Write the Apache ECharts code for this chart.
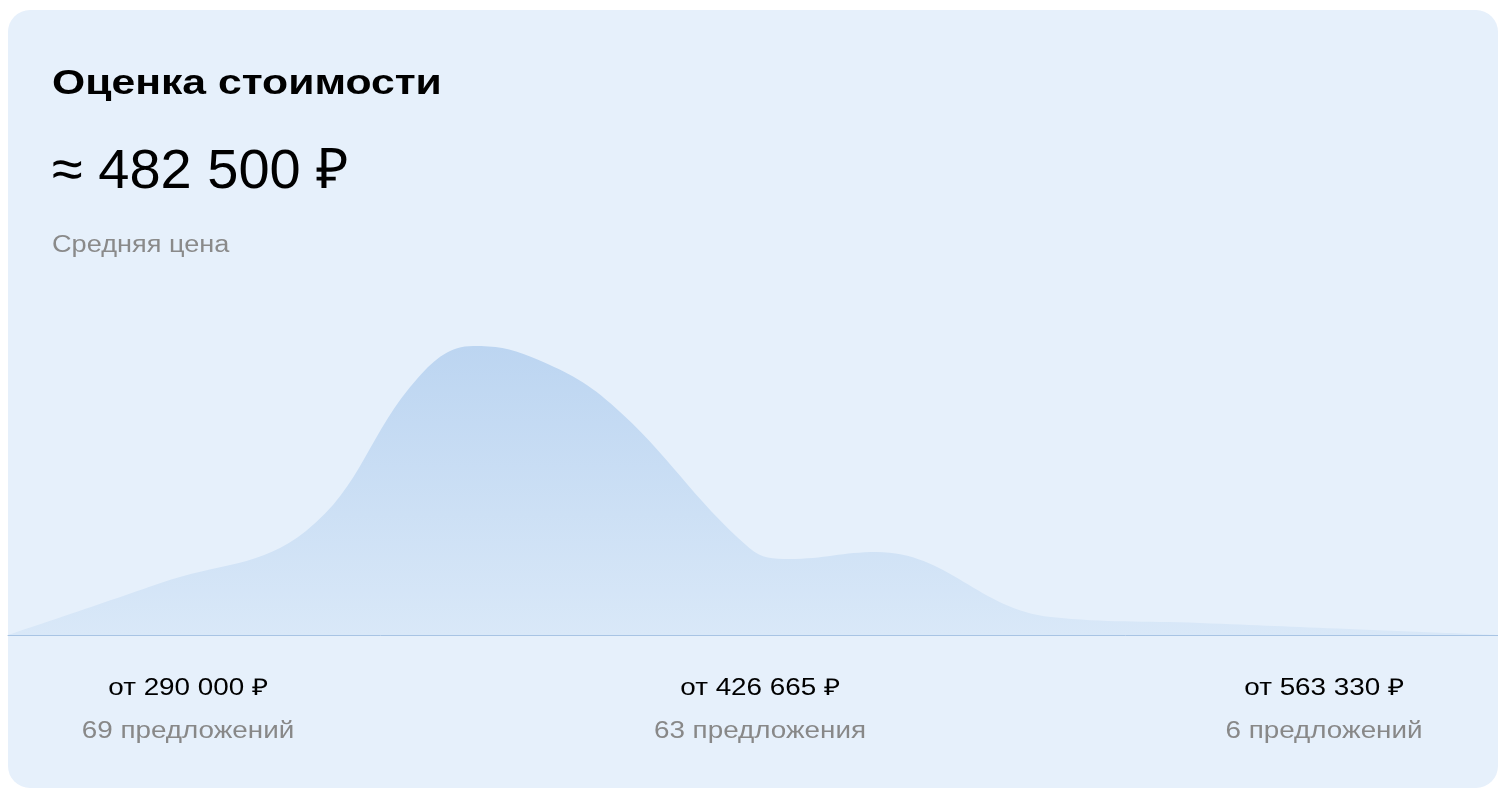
<!DOCTYPE html>
<html>
<head>
<meta charset="utf-8">
<script src="https://cdn.jsdelivr.net/npm/echarts@6/dist/echarts.min.js"></script>
<style>
html,body{margin:0;padding:0;background:#ffffff;}
#chart{width:1498px;height:789px;}
</style>
</head>
<body>
<div id="chart"></div>
<script>
// Data
const titleText = 'Оценка стоимости';
const avgPriceText = '≈ 482 500 ₽';
const avgLabel = 'Средняя цена';
const prices  = [290000, 332000, 372000, 403000, 418000, 434000, 456000, 494000, 505000, 529000, 577000, 618000, 659000, 700000];
const density = [0,      52,     104,    258,    289,    278,    231,    87,     76,     83,     18,     12,     6,      0];
const priceMin = 290000;
const priceMax = 700000;
const rangeLabels = ['от 290 000 ₽', 'от 426 665 ₽', 'от 563 330 ₽'];
const countLabels = ['69 предложений', '63 предложения', '6 предложений'];

const FONT = '"Liberation Sans", Arial, Helvetica, sans-serif';
const chart = echarts.init(document.getElementById('chart'), null, {renderer: 'canvas'});

const labelX = [188, 760, 1324];
const graphics = [
  {type: 'rect', z: -10, shape: {x: 8, y: 10, width: 1490, height: 778, r: 22}, style: {fill: '#e6f0fb'}},
  {type: 'text', x: 52, y: 84, scaleX: 1.22, style: {text: titleText, font: 'bold 35px ' + FONT, fill: '#000000', verticalAlign: 'middle'}},
  {type: 'text', x: 52, y: 173, style: {text: avgPriceText, font: '56px ' + FONT, fill: '#000000', verticalAlign: 'middle'}},
  {type: 'text', x: 52, y: 246, scaleX: 1.18, style: {text: avgLabel, font: '23px ' + FONT, fill: '#8a8a8a', verticalAlign: 'middle'}}
];
rangeLabels.forEach((t, i) => {
  graphics.push({type: 'text', x: labelX[i], y: 689, scaleX: 1.21, style: {text: t, font: '23px ' + FONT, fill: '#000000', align: 'center', verticalAlign: 'middle'}});
  graphics.push({type: 'text', x: labelX[i], y: 732, scaleX: 1.21, style: {text: countLabels[i], font: '23px ' + FONT, fill: '#888888', align: 'center', verticalAlign: 'middle'}});
});

chart.setOption({
  animation: false,
  backgroundColor: 'transparent',
  graphic: graphics,
  grid: {left: 8, right: 0, top: 335, bottom: 154, containLabel: false},
  xAxis: {
    type: 'value', min: priceMin, max: priceMax,
    axisLine: {show: true, onZero: false, lineStyle: {color: '#a8c4e4', width: 1}},
    axisTick: {show: false}, axisLabel: {show: false}, splitLine: {show: false}
  },
  yAxis: {type: 'value', min: 0, max: 300, show: false, splitLine: {show: false}},
  series: [{
    type: 'line', data: prices.map((p, i) => [p, density[i]]), smooth: 0.4, symbol: 'none',
    lineStyle: {width: 0, color: 'transparent'},
    areaStyle: {
      opacity: 1,
      color: new echarts.graphic.LinearGradient(0, 0, 0, 1, [
        {offset: 0, color: '#bcd5f1'},
        {offset: 1, color: '#d9e8f8'}
      ])
    }
  }]
});
</script>
</body>
</html>
